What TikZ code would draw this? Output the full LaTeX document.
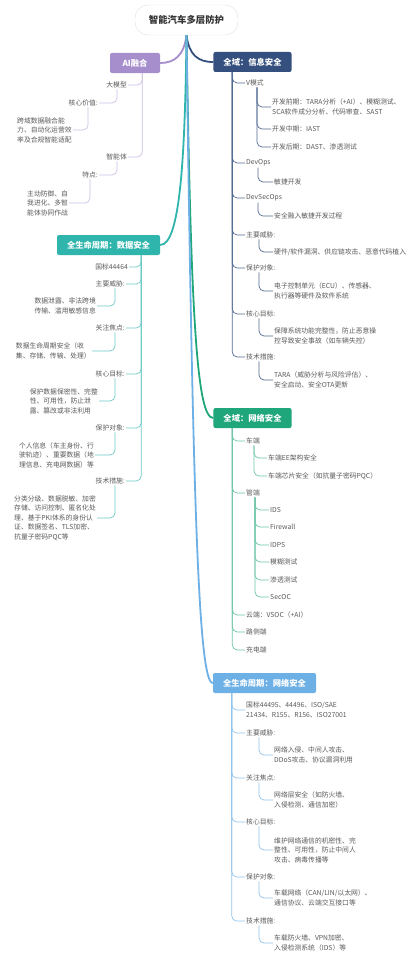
\documentclass[tikz,border=0pt]{standalone}
\usepackage{fontspec}
\setmainfont{Noto Sans CJK SC}
\usepackage{tikz}

\definecolor{aicol}{HTML}{A68DCC}
\definecolor{infocol}{HTML}{35507F}
\definecolor{datacol}{HTML}{2FB5AC}
\definecolor{netcol}{HTML}{20A67B}
\definecolor{lifecol}{HTML}{6DB0E6}
\definecolor{txtcol}{HTML}{5A5A5A}

\tikzset{
  rootbox/.style={draw=black!12, fill=white, rounded corners=13pt, minimum width=103pt,
    minimum height=30pt, text=black!80, font=\fontsize{9.4}{11}\selectfont\bfseries},
  mainbox/.style={rounded corners=2pt, minimum height=20pt, inner xsep=10pt, text=white,
    font=\fontsize{8.3}{10}\selectfont\bfseries},
  leaf/.style={inner sep=1pt, align=left, text=txtcol, font=\fontsize{6.8}{9.5}\selectfont},
  rleaf/.style={leaf, anchor=west},
  lleaf/.style={leaf, anchor=east},
  trunk/.style={line width=1.8pt},
  twig/.style={line width=0.7pt, rounded corners=5pt},
}

\begin{document}
\begin{tikzpicture}[x=1pt, y=-1pt]

  \fill[white] (0,0) rectangle (420,958);
  \useasboundingbox (0,0) rectangle (420,958);

  \node[rootbox] (root) at (186.5,20) {智能汽车多层防护};
  \node[mainbox, fill=aicol, minimum width=50pt] (ai) at (135,63) {AI融合};
  \node[mainbox, fill=infocol] (info) at (252.5,62) {全域：信息安全};
  \node[mainbox, fill=datacol] (data) at (108.5,245) {全生命周期：数据安全};
  \node[mainbox, fill=netcol] (net) at (252.5,418) {全域：网络安全};
  \node[mainbox, fill=lifecol] (life) at (264.5,683) {全生命周期：网络安全};

  \draw[trunk, aicol] (root.south) .. controls (184,55) and (175,63) .. (ai.east);
  \draw[trunk, infocol] (root.south) .. controls (189,55) and (198,62) .. (info.west);
  \draw[trunk, datacol] (root.south) .. controls (185,160) and (180,245) .. (data.east);
  \draw[trunk, netcol] (root.south) .. controls (191,320) and (197,418) .. (net.west);
  \draw[trunk, lifecol] (root.south) .. controls (193,520) and (199,683) .. (life.west);

  %% AI
  \node[lleaf] (bigmodel) at (128,85) {大模型};
  \node[lleaf] (corevalue) at (99,103) {核心价值:};
  \node[rleaf] (corevaluet) at (16,130) {跨域数据融合能\\力、自动化运营效\\率及合规智能适配};
  \node[lleaf] (agent) at (128,157) {智能体};
  \node[lleaf] (feature) at (99,175) {特点:};
  \node[rleaf] (featuret) at (26,203) {主动防御、自\\我进化、多智\\能体协同作战};

  \draw[twig, aicol!55] ([xshift=-18pt]ai.south east) |- (bigmodel.east);
  \draw[twig, aicol!55] ([xshift=-18pt]ai.south east) |- (agent.east);
  \draw[twig, aicol!55] ([xshift=-11pt]bigmodel.south east) |- (corevalue.east);
  \draw[twig, aicol!55] ([xshift=-11pt]corevalue.south east) |- (corevaluet.east);
  \draw[twig, aicol!55] ([xshift=-11pt]agent.south east) |- (feature.east);
  \draw[twig, aicol!55] ([xshift=-9pt]feature.south east) |- (featuret.east);

  %% info
  \node[rleaf] (vmode) at (245,83) {V模式};
  \node[rleaf] (vpre) at (271,107) {开发前期：TARA分析（+AI）、模糊测试、\\SCA软件成分分析、代码审查、SAST};
  \node[rleaf] (vmid) at (271,129) {开发中期：IAST};
  \node[rleaf] (vpost) at (271,147) {开发后期：DAST、渗透测试};
  \node[rleaf] (devops) at (245,163) {DevOps};
  \node[rleaf] (agile) at (273,182) {敏捷开发};
  \node[rleaf] (devsecops) at (245,198) {DevSecOps};
  \node[rleaf] (secagile) at (273,216) {安全融入敏捷开发过程};
  \node[rleaf] (ithreat) at (245,235) {主要威胁:};
  \node[rleaf] (ithreatt) at (273,252) {硬件/软件漏洞、供应链攻击、恶意代码植入};
  \node[rleaf] (iobj) at (245,268) {保护对象:};
  \node[rleaf] (iobjt) at (273,291) {电子控制单元（ECU）、传感器、\\执行器等硬件及软件系统};
  \node[rleaf] (igoal) at (245,314) {核心目标:};
  \node[rleaf] (igoalt) at (273,336) {保障系统功能完整性，防止恶意操\\控导致安全事故（如车辆失控）};
  \node[rleaf] (itech) at (245,357) {技术措施:};
  \node[rleaf] (itecht) at (273,380) {TARA（威胁分析与风险评估）、\\安全启动、安全OTA更新};

  \draw[twig, infocol!85] ([xshift=19pt]info.south west) |- (vmode.west);
  \draw[twig, infocol!85] ([xshift=19pt]info.south west) |- (devops.west);
  \draw[twig, infocol!85] ([xshift=19pt]info.south west) |- (devsecops.west);
  \draw[twig, infocol!85] ([xshift=19pt]info.south west) |- (ithreat.west);
  \draw[twig, infocol!85] ([xshift=19pt]info.south west) |- (iobj.west);
  \draw[twig, infocol!85] ([xshift=19pt]info.south west) |- (igoal.west);
  \draw[twig, infocol!85] ([xshift=19pt]info.south west) |- (itech.west);
  \draw[twig, infocol!85] ([xshift=12pt]vmode.south west) |- (vpre.west);
  \draw[twig, infocol!85] ([xshift=12pt]vmode.south west) |- (vmid.west);
  \draw[twig, infocol!85] ([xshift=12pt]vmode.south west) |- (vpost.west);
  \draw[twig, infocol!85] ([xshift=13pt]devops.south west) |- (agile.west);
  \draw[twig, infocol!85] ([xshift=13pt]devsecops.south west) |- (secagile.west);
  \draw[twig, infocol!85] ([xshift=14pt]ithreat.south west) |- (ithreatt.west);
  \draw[twig, infocol!85] ([xshift=14pt]iobj.south west) |- (iobjt.west);
  \draw[twig, infocol!85] ([xshift=14pt]igoal.south west) |- (igoalt.west);
  \draw[twig, infocol!85] ([xshift=14pt]itech.south west) |- (itecht.west);

  %% data
  \node[lleaf] (gb) at (129,267) {国标44464};
  \node[lleaf] (dthreat) at (126,284) {主要威胁:};
  \node[lleaf] (dthreatt) at (97,306) {数据泄露、非法跨境\\传输、滥用敏感信息};
  \node[lleaf] (dfocus) at (126,328) {关注焦点:};
  \node[lleaf] (dfocust) at (92,351) {数据生命周期安全（收\\集、存储、传输、处理）};
  \node[lleaf] (dgoal) at (126,374) {核心目标:};
  \node[lleaf] (dgoalt) at (99,401) {保护数据保密性、完整\\性、可用性，防止泄\\露、篡改或非法利用};
  \node[lleaf] (dobj) at (126,428) {保护对象:};
  \node[lleaf] (dobjt) at (95,455) {个人信息（车主身份、行\\驶轨迹）、重要数据（地\\理信息、充电网数据）等};
  \node[lleaf] (dtech) at (126,481) {技术措施:};
  \node[lleaf] (dtecht) at (97,518) {分类分级、数据脱敏、加密\\存储、访问控制、匿名化处\\理、基于PKI体系的身份认\\证、数据签名、TLS加密、\\抗量子密码PQC等};

  \draw[twig, datacol!70] ([xshift=-19pt]data.south east) |- (gb.east);
  \draw[twig, datacol!70] ([xshift=-19pt]data.south east) |- (dthreat.east);
  \draw[twig, datacol!70] ([xshift=-19pt]data.south east) |- (dfocus.east);
  \draw[twig, datacol!70] ([xshift=-19pt]data.south east) |- (dgoal.east);
  \draw[twig, datacol!70] ([xshift=-19pt]data.south east) |- (dobj.east);
  \draw[twig, datacol!70] ([xshift=-19pt]data.south east) |- (dtech.east);
  \draw[twig, datacol!70] ([xshift=-11pt]dthreat.south east) |- (dthreatt.east);
  \draw[twig, datacol!70] ([xshift=-11pt]dfocus.south east) |- (dfocust.east);
  \draw[twig, datacol!70] ([xshift=-11pt]dgoal.south east) |- (dgoalt.east);
  \draw[twig, datacol!70] ([xshift=-11pt]dobj.south east) |- (dobjt.east);
  \draw[twig, datacol!70] ([xshift=-11pt]dtech.south east) |- (dtecht.east);

  %% net
  \node[rleaf] (vehicle) at (245,441) {车端};
  \node[rleaf] (ee) at (267,458) {车端EE架构安全};
  \node[rleaf] (chip) at (267,476) {车端芯片安全（如抗量子密码PQC）};
  \node[rleaf] (pipe) at (245,493) {管端};
  \node[rleaf] (ids) at (269,510) {IDS};
  \node[rleaf] (fw) at (269,527) {Firewall};
  \node[rleaf] (idps) at (269,545) {IDPS};
  \node[rleaf] (fuzz) at (269,562) {模糊测试};
  \node[rleaf] (pen) at (269,580) {渗透测试};
  \node[rleaf] (secoc) at (269,597) {SecOC};
  \node[rleaf] (cloud) at (245,615) {云端：VSOC（+AI）};
  \node[rleaf] (road) at (245,632) {路侧端};
  \node[rleaf] (charge) at (245,650) {充电端};

  \draw[twig, netcol!65] ([xshift=19pt]net.south west) |- (vehicle.west);
  \draw[twig, netcol!65] ([xshift=19pt]net.south west) |- (pipe.west);
  \draw[twig, netcol!65] ([xshift=19pt]net.south west) |- (cloud.west);
  \draw[twig, netcol!65] ([xshift=19pt]net.south west) |- (road.west);
  \draw[twig, netcol!65] ([xshift=19pt]net.south west) |- (charge.west);
  \draw[twig, netcol!65] ([xshift=9pt]vehicle.south west) |- (ee.west);
  \draw[twig, netcol!65] ([xshift=9pt]vehicle.south west) |- (chip.west);
  \draw[twig, netcol!65] ([xshift=10pt]pipe.south west) |- (ids.west);
  \draw[twig, netcol!65] ([xshift=10pt]pipe.south west) |- (fw.west);
  \draw[twig, netcol!65] ([xshift=10pt]pipe.south west) |- (idps.west);
  \draw[twig, netcol!65] ([xshift=10pt]pipe.south west) |- (fuzz.west);
  \draw[twig, netcol!65] ([xshift=10pt]pipe.south west) |- (pen.west);
  \draw[twig, netcol!65] ([xshift=10pt]pipe.south west) |- (secoc.west);

  %% life
  \node[rleaf] (std) at (245,710) {国标44495、44496、ISO/SAE\\21434、R155、R156、ISO27001};
  \node[rleaf] (nthreat) at (245,733) {主要威胁:};
  \node[rleaf] (nthreatt) at (273,755) {网络入侵、中间人攻击、\\DDoS攻击、协议漏洞利用};
  \node[rleaf] (nfocus) at (245,778) {关注焦点:};
  \node[rleaf] (nfocust) at (273,800) {网络层安全（如防火墙、\\入侵检测、通信加密）};
  \node[rleaf] (ngoal) at (245,822) {核心目标:};
  \node[rleaf] (ngoalt) at (273,850) {维护网络通信的机密性、完\\整性、可用性，防止中间人\\攻击、病毒传播等};
  \node[rleaf] (nobj) at (245,877) {保护对象:};
  \node[rleaf] (nobjt) at (273,898) {车载网络（CAN/LIN/以太网）、\\通信协议、云端交互接口等};
  \node[rleaf] (ntech) at (245,921) {技术措施:};
  \node[rleaf] (ntecht) at (273,943) {车载防火墙、VPN加密、\\入侵检测系统（IDS）等};

  \draw[twig, lifecol!75] ([xshift=19pt]life.south west) |- (std.west);
  \draw[twig, lifecol!75] ([xshift=19pt]life.south west) |- (nthreat.west);
  \draw[twig, lifecol!75] ([xshift=19pt]life.south west) |- (nfocus.west);
  \draw[twig, lifecol!75] ([xshift=19pt]life.south west) |- (ngoal.west);
  \draw[twig, lifecol!75] ([xshift=19pt]life.south west) |- (nobj.west);
  \draw[twig, lifecol!75] ([xshift=19pt]life.south west) |- (ntech.west);
  \draw[twig, lifecol!75] ([xshift=14pt]nthreat.south west) |- (nthreatt.west);
  \draw[twig, lifecol!75] ([xshift=14pt]nfocus.south west) |- (nfocust.west);
  \draw[twig, lifecol!75] ([xshift=14pt]ngoal.south west) |- (ngoalt.west);
  \draw[twig, lifecol!75] ([xshift=14pt]nobj.south west) |- (nobjt.west);
  \draw[twig, lifecol!75] ([xshift=14pt]ntech.south west) |- (ntecht.west);

\end{tikzpicture}
\end{document}
